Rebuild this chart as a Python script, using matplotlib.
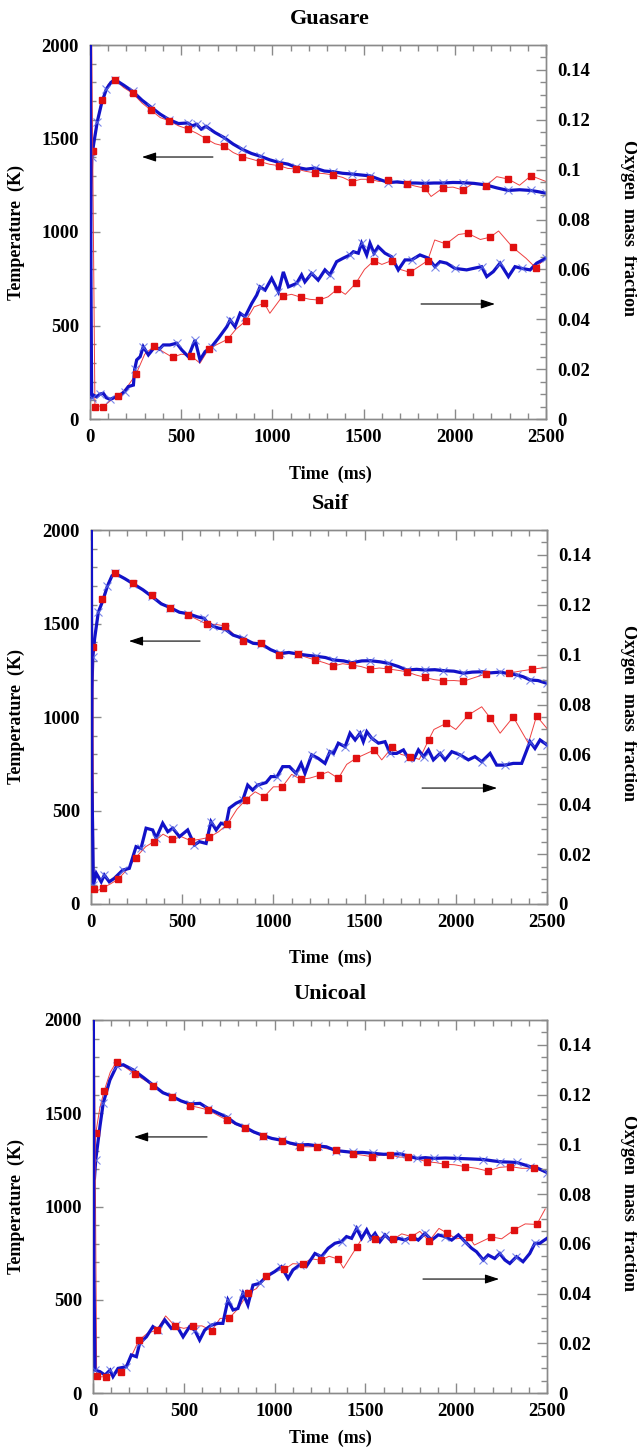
import matplotlib
matplotlib.use("Agg")
import matplotlib.pyplot as plt
from matplotlib.ticker import MultipleLocator, FuncFormatter

plt.rcParams['font.family'] = ['Liberation Serif', 'DejaVu Serif']
plt.rcParams['font.weight'] = 'bold'

# ---------------- Guasare ----------------
# (time ms, temperature K)
GUA_TEMP_BLUE = [(0, 800), (5, 1250), (10, 1400), (20, 1470), (40, 1590), (64, 1690), (90, 1765), (115, 1800),
                 (137, 1815), (185, 1785), (234, 1752), (285, 1705), (334, 1668), (385, 1630), (435, 1600),
                 (485, 1580), (535, 1583), (560, 1568), (585, 1576), (610, 1550), (636, 1565), (685, 1532),
                 (735, 1505), (785, 1470), (835, 1442), (885, 1420), (934, 1405), (985, 1386), (1035, 1372),
                 (1085, 1363), (1131, 1346), (1185, 1336), (1232, 1342), (1285, 1326), (1334, 1322), (1385, 1314),
                 (1435, 1310), (1485, 1305), (1535, 1300), (1585, 1282), (1636, 1264), (1685, 1268), (1736, 1262),
                 (1785, 1262), (1837, 1260), (1885, 1262), (1937, 1262), (1990, 1265), (2043, 1264), (2105, 1260),
                 (2169, 1252), (2230, 1236), (2293, 1222), (2355, 1226), (2418, 1222), (2460, 1215), (2500, 1207)]
# start point, then alternating (square, in-between) points
GUA_TEMP_RED = [(0, 900),
                (15, 1435), (40, 1600), (64, 1706), (100, 1790), (137, 1813), (185, 1772), (234, 1742), (285, 1690),
                (334, 1652), (385, 1612), (435, 1594), (485, 1568), (535, 1551), (585, 1528), (636, 1499), (685, 1472),
                (735, 1460), (785, 1425), (835, 1403), (885, 1390), (934, 1376), (985, 1362), (1035, 1355), (1085, 1340),
                (1131, 1337), (1180, 1325), (1232, 1316), (1285, 1312), (1334, 1305), (1385, 1292), (1435, 1269),
                (1485, 1282), (1535, 1282), (1585, 1270), (1636, 1276), (1685, 1262), (1736, 1257), (1785, 1245),
                (1837, 1234), (1870, 1190), (1937, 1237), (1990, 1240), (2043, 1225), (2105, 1262), (2169, 1246),
                (2230, 1296), (2293, 1283), (2355, 1250), (2418, 1301), (2500, 1270)]
# (time ms, oxygen mass fraction)
GUA_O2_BLUE = [(0, 0.23), (5, 0.06), (9, 0.0083), (20, 0.0095), (37, 0.0089), (55, 0.0100), (73, 0.0103), (90, 0.0085),
               (110, 0.0079), (140, 0.0088), (165, 0.0096), (190, 0.011), (210, 0.013), (238, 0.0136), (245, 0.020),
               (256, 0.0237), (275, 0.025), (292, 0.029), (320, 0.0257), (356, 0.029), (380, 0.028), (402, 0.0297),
               (438, 0.0297), (475, 0.0304), (503, 0.0277), (539, 0.025), (576, 0.0317), (603, 0.0237), (631, 0.027),
               (667, 0.029), (704, 0.0324), (750, 0.037), (768, 0.0397), (795, 0.037), (823, 0.0424), (850, 0.041),
               (887, 0.0464), (914, 0.0497), (932, 0.053), (960, 0.0517), (996, 0.0564), (1033, 0.051), (1060, 0.059),
               (1088, 0.053), (1133, 0.0544), (1160, 0.0578), (1178, 0.055), (1215, 0.0584), (1251, 0.0557),
               (1288, 0.0598), (1315, 0.0578), (1352, 0.0631), (1388, 0.0645), (1425, 0.0658), (1444, 0.0671),
               (1471, 0.0665), (1489, 0.0705), (1517, 0.0658), (1535, 0.0705), (1557, 0.0665), (1580, 0.0691),
               (1617, 0.0665), (1653, 0.0651), (1690, 0.0598), (1727, 0.0638), (1763, 0.0638), (1809, 0.0658),
               (1855, 0.0645), (1891, 0.0611), (1919, 0.0631), (1955, 0.0625), (2001, 0.0604), (2065, 0.0598),
               (2102, 0.0604), (2147, 0.0611), (2175, 0.0571), (2211, 0.0591), (2248, 0.0625), (2294, 0.0571),
               (2330, 0.0611), (2367, 0.0604), (2413, 0.0598), (2449, 0.0625), (2500, 0.0645)]
GUA_O2_RED = [(0, 0.23),
              (27, 0.0049), (50, 0.0052), (73, 0.0050), (115, 0.0075), (155, 0.0092), (205, 0.013), (252, 0.0179),
              (300, 0.026), (353, 0.0293), (400, 0.027), (453, 0.0247), (500, 0.026), (552, 0.0254), (603, 0.0224),
              (652, 0.0282), (700, 0.030), (755, 0.0320), (800, 0.036), (855, 0.0394), (900, 0.045), (956, 0.0464),
              (986, 0.0424), (1056, 0.0493), (1105, 0.050), (1157, 0.0488), (1205, 0.048), (1257, 0.0477),
              (1305, 0.049), (1356, 0.0521), (1400, 0.050), (1457, 0.0544), (1505, 0.060), (1557, 0.0635),
              (1600, 0.0620), (1653, 0.0635), (1700, 0.0600), (1754, 0.0588), (1800, 0.0610), (1851, 0.0635),
              (1890, 0.0718), (1952, 0.0702), (2020, 0.0740), (2071, 0.0745), (2140, 0.0720), (2193, 0.0729),
              (2240, 0.0754), (2317, 0.0689), (2390, 0.0645), (2443, 0.0607), (2500, 0.0645)]

# ---------------- Saif ----------------
SAIF_TEMP_BLUE = [(0, 700), (5, 1150), (10, 1320), (20, 1420), (40, 1560), (64, 1620), (90, 1700), (115, 1755),
                  (132, 1768), (185, 1740), (232, 1712), (285, 1680), (333, 1645), (385, 1605), (434, 1585),
                  (485, 1560), (534, 1552), (585, 1535), (620, 1528), (634, 1510), (670, 1485), (700, 1475),
                  (735, 1470), (779, 1438), (835, 1420), (889, 1394), (934, 1390), (985, 1360), (1034, 1340),
                  (1085, 1345), (1133, 1337), (1185, 1330), (1233, 1325), (1285, 1318), (1329, 1305), (1385, 1300),
                  (1429, 1290), (1485, 1300), (1530, 1301), (1585, 1295), (1630, 1287), (1685, 1270), (1731, 1251),
                  (1785, 1255), (1831, 1251), (1885, 1253), (1932, 1248), (1990, 1245), (2042, 1234), (2090, 1240),
                  (2143, 1242), (2190, 1236), (2243, 1240), (2290, 1232), (2335, 1225), (2370, 1215), (2408, 1198),
                  (2450, 1195), (2500, 1180)]
SAIF_TEMP_RED = [(0, 900),
                 (13, 1376), (35, 1520), (62, 1631), (95, 1720), (132, 1768), (180, 1740), (232, 1715), (285, 1680),
                 (333, 1652), (385, 1612), (434, 1581), (485, 1560), (534, 1545), (585, 1520), (634, 1497), (685, 1495),
                 (735, 1487), (785, 1440), (832, 1408), (885, 1400), (932, 1398), (985, 1360), (1032, 1332), (1085, 1340),
                 (1133, 1335), (1185, 1318), (1228, 1305), (1280, 1290), (1329, 1273), (1380, 1285), (1429, 1278),
                 (1480, 1270), (1530, 1255), (1580, 1262), (1630, 1257), (1680, 1250), (1731, 1242), (1780, 1225),
                 (1831, 1212), (1880, 1200), (1932, 1194), (1990, 1195), (2042, 1191), (2100, 1210), (2164, 1230),
                 (2230, 1238), (2289, 1234), (2350, 1245), (2417, 1255), (2500, 1266)]
SAIF_O2_BLUE = [(0, 0.23), (5, 0.05), (13, 0.0076), (29, 0.0123), (56, 0.0089), (73, 0.0116), (100, 0.0089),
                (128, 0.0103), (174, 0.0136), (210, 0.0143), (247, 0.023), (274, 0.0223), (302, 0.0304), (338, 0.0297),
                (357, 0.0264), (393, 0.0324), (421, 0.029), (448, 0.0304), (485, 0.027), (530, 0.0297), (567, 0.0237),
                (594, 0.025), (631, 0.0243), (658, 0.033), (686, 0.0297), (713, 0.0324), (740, 0.0317), (758, 0.0384),
                (795, 0.0404), (832, 0.0417), (859, 0.0477), (886, 0.0457), (914, 0.0477), (960, 0.0487),
                (987, 0.0511), (1020, 0.0511), (1051, 0.0551), (1088, 0.0551), (1124, 0.0524), (1152, 0.0564),
                (1173, 0.0524), (1210, 0.0598), (1246, 0.0584), (1283, 0.0564), (1310, 0.0611), (1330, 0.0604),
                (1356, 0.0645), (1393, 0.0631), (1420, 0.0685), (1448, 0.0658), (1475, 0.0685), (1493, 0.0651),
                (1512, 0.0691), (1539, 0.0665), (1576, 0.0645), (1612, 0.0651), (1640, 0.0604), (1676, 0.0604),
                (1713, 0.0618), (1740, 0.0584), (1768, 0.0578), (1795, 0.0618), (1823, 0.0591), (1850, 0.0618),
                (1877, 0.0578), (1914, 0.0604), (1941, 0.0578), (1978, 0.0611), (2024, 0.0598), (2069, 0.0578),
                (2105, 0.0591), (2142, 0.0571), (2188, 0.0604), (2224, 0.0557), (2270, 0.0557), (2315, 0.0564),
                (2361, 0.0564), (2407, 0.0651), (2434, 0.0624), (2462, 0.0658), (2500, 0.0638)]
SAIF_O2_RED = [(0, 0.23),
               (16, 0.0059), (40, 0.0055), (66, 0.0065), (105, 0.0080), (148, 0.0099), (200, 0.014), (245, 0.0186),
               (300, 0.023), (345, 0.025), (395, 0.028), (446, 0.0259), (495, 0.027), (547, 0.0254), (600, 0.026),
               (647, 0.0267), (700, 0.029), (748, 0.032), (800, 0.038), (848, 0.0417), (900, 0.045), (949, 0.043),
               (1000, 0.047), (1049, 0.047), (1100, 0.052), (1150, 0.0500), (1200, 0.0505), (1255, 0.0517),
               (1300, 0.053), (1356, 0.0504), (1402, 0.056), (1452, 0.0584), (1500, 0.060), (1553, 0.0618),
               (1594, 0.0578), (1651, 0.0628), (1700, 0.060), (1751, 0.0591), (1800, 0.058), (1851, 0.0658),
               (1880, 0.070), (1949, 0.0725), (2000, 0.070), (2069, 0.0758), (2142, 0.0791), (2190, 0.0745),
               (2243, 0.0685), (2315, 0.0750), (2398, 0.0645), (2443, 0.0754), (2500, 0.0704)]

# ---------------- Unicoal ----------------
UNI_TEMP_BLUE = [(0, 1140), (8, 1150), (15, 1249), (38, 1428), (56, 1553), (93, 1678), (130, 1753), (167, 1760),
                 (222, 1732), (280, 1690), (332, 1650), (385, 1610), (433, 1592), (485, 1566), (534, 1550),
                 (589, 1553), (635, 1525), (690, 1500), (736, 1480), (785, 1445), (837, 1425), (885, 1400),
                 (938, 1380), (985, 1365), (1039, 1355), (1085, 1340), (1136, 1330), (1185, 1332), (1237, 1325),
                 (1285, 1320), (1336, 1300), (1385, 1295), (1434, 1290), (1485, 1290), (1544, 1285), (1600, 1280),
                 (1691, 1282), (1740, 1270), (1783, 1258), (1830, 1262), (1875, 1258), (1940, 1260), (2003, 1258),
                 (2080, 1255), (2150, 1252), (2200, 1245), (2242, 1240), (2290, 1238), (2334, 1236), (2370, 1225),
                 (2407, 1214), (2450, 1205), (2500, 1182)]
UNI_TEMP_RED = [(0, 1000),
                (15, 1392), (38, 1530), (61, 1619), (95, 1720), (130, 1777), (180, 1745), (231, 1709), (280, 1680),
                (332, 1648), (385, 1615), (433, 1589), (485, 1565), (534, 1541), (585, 1530), (635, 1517), (685, 1490),
                (736, 1464), (785, 1440), (837, 1419), (885, 1395), (938, 1378), (985, 1365), (1039, 1353),
                (1085, 1335), (1140, 1321), (1185, 1320), (1235, 1321), (1285, 1310), (1336, 1303), (1385, 1295),
                (1434, 1282), (1485, 1275), (1535, 1267), (1585, 1275), (1636, 1276), (1685, 1265), (1737, 1264),
                (1785, 1255), (1838, 1240), (1890, 1235), (1939, 1226), (1990, 1224), (2046, 1214), (2110, 1205),
                (2174, 1190), (2240, 1210), (2297, 1214), (2360, 1205), (2426, 1205), (2500, 1181)]
UNI_O2_BLUE = [(0, 0.23), (5, 0.05), (11, 0.0092), (38, 0.0086), (66, 0.0072), (94, 0.0092), (110, 0.0066),
               (138, 0.0099), (184, 0.0106), (211, 0.0153), (239, 0.0146), (257, 0.020), (294, 0.0226), (330, 0.0267),
               (358, 0.0253), (395, 0.0294), (431, 0.026), (459, 0.0273), (496, 0.0226), (532, 0.0267), (560, 0.0253),
               (587, 0.0213), (615, 0.0253), (652, 0.0273), (688, 0.028), (715, 0.028), (743, 0.0374), (771, 0.0334),
               (798, 0.0340), (826, 0.0401), (853, 0.0354), (881, 0.0434), (918, 0.0441), (954, 0.0468),
               (1000, 0.0488), (1037, 0.0508), (1074, 0.0461), (1101, 0.0495), (1138, 0.0515), (1174, 0.0508),
               (1222, 0.0561), (1258, 0.0548), (1295, 0.0582), (1332, 0.0602), (1369, 0.0609), (1396, 0.0629),
               (1424, 0.0622), (1452, 0.0662), (1479, 0.0622), (1507, 0.0656), (1530, 0.0622), (1553, 0.0642),
               (1580, 0.0609), (1608, 0.0636), (1645, 0.0609), (1681, 0.0622), (1718, 0.0615), (1755, 0.0629),
               (1791, 0.0615), (1828, 0.0642), (1865, 0.0615), (1901, 0.0636), (1938, 0.0629), (1975, 0.0615),
               (2012, 0.0636), (2048, 0.0609), (2085, 0.0582), (2112, 0.0568), (2149, 0.0535), (2176, 0.0555),
               (2212, 0.0541), (2240, 0.0561), (2268, 0.0535), (2295, 0.0521), (2332, 0.0548), (2368, 0.0528),
               (2405, 0.0561), (2433, 0.0602), (2460, 0.0602), (2500, 0.0622)]
UNI_O2_RED = [(0, 0.23),
              (20, 0.0070), (45, 0.0065), (70, 0.0066), (110, 0.0075), (152, 0.0086), (200, 0.013), (253, 0.0213),
              (300, 0.024), (351, 0.0253), (400, 0.031), (452, 0.0269), (500, 0.026), (553, 0.0269), (600, 0.027),
              (654, 0.0251), (700, 0.030), (749, 0.0300), (800, 0.034), (854, 0.0403), (900, 0.042), (953, 0.0471),
              (1000, 0.049), (1054, 0.0497), (1100, 0.052), (1155, 0.0518), (1200, 0.054), (1254, 0.0534),
              (1300, 0.055), (1351, 0.0538), (1379, 0.0502), (1453, 0.0588), (1505, 0.065), (1554, 0.0618),
              (1600, 0.0630), (1653, 0.0618), (1700, 0.0640), (1754, 0.0629), (1800, 0.0650), (1851, 0.0611),
              (1905, 0.0662), (1952, 0.0642), (2000, 0.062), (2071, 0.0628), (2100, 0.0595), (2194, 0.0628),
              (2250, 0.062), (2319, 0.0656), (2380, 0.068), (2444, 0.0678), (2490, 0.074)]

PANEL_NAMES = ["Guasare", "Saif", "Unicoal"]
# arrows: (tail time, head time, temperature level)
ARROWS_TEMP = [(674, 285, 1401), (598, 208, 1406), (628, 226, 1373)]
ARROWS_O2 = [(1815, 2220, 615), (1815, 2226, 620), (1817, 2236, 611)]

FIG_W, FIG_H = 637, 1450
# axes boxes in pixels: left, top, right, bottom
BOXES = [(90, 45, 546, 419), (91, 530, 547, 904), (93, 1020, 547, 1393)]
XLABEL_OFFSETS = [55, 54, 45]

BLUE = '#1212c8'
BLUE_MARK = '#5a6ae4'
RED_LINE = '#ef4040'
RED_MARK = '#e01010'
GREY = '#8a8a8a'


def split(points):
    return [p[0] for p in points], [p[1] for p in points]


def draw_blue(ax, pts, every):
    t, v = split(pts)
    ax.plot(t, v, color=BLUE, lw=2.3, zorder=3, solid_joinstyle='miter')
    ax.plot(t, v, ls='none', marker='x', ms=6, mew=0.8, color=BLUE_MARK, alpha=0.8,
            markevery=slice(2, None, every), zorder=3)


def draw_red(ax, pts):
    t, v = split(pts)
    ax.plot(t, v, color=RED_LINE, lw=0.7, zorder=2)
    ax.plot(t, v, ls='none', marker='s', ms=5, color=RED_MARK,
            markevery=slice(1, None, 2), zorder=4)


series = [
    (GUA_TEMP_BLUE, GUA_TEMP_RED, GUA_O2_BLUE, GUA_O2_RED),
    (SAIF_TEMP_BLUE, SAIF_TEMP_RED, SAIF_O2_BLUE, SAIF_O2_RED),
    (UNI_TEMP_BLUE, UNI_TEMP_RED, UNI_O2_BLUE, UNI_O2_RED),
]

fig = plt.figure(figsize=(FIG_W / 100, FIG_H / 100), dpi=100)

tick_kw = dict(labelsize=13.5, colors=GREY, labelcolor='black', direction='in')

for i, (name, (tb, tr, ob, orr)) in enumerate(zip(PANEL_NAMES, series)):
    l, t, r, b = BOXES[i]
    w_ax, h_ax = r - l, b - t
    ax = fig.add_axes([l / FIG_W, 1 - b / FIG_H, w_ax / FIG_W, h_ax / FIG_H])
    ax2 = ax.twinx()

    draw_red(ax, tr)
    draw_blue(ax, tb, 2)
    draw_red(ax2, orr)
    draw_blue(ax2, ob, 3)

    ax.set_xlim(0, 2500)
    ax.set_ylim(0, 2000)
    ax2.set_ylim(0, 0.15)

    ax.xaxis.set_major_locator(MultipleLocator(500))
    ax.xaxis.set_minor_locator(MultipleLocator(100))
    ax.yaxis.set_major_locator(MultipleLocator(500))
    ax.yaxis.set_minor_locator(MultipleLocator(100))
    ax2.yaxis.set_major_locator(MultipleLocator(0.02))
    ax2.yaxis.set_minor_locator(MultipleLocator(0.005))
    ax2.yaxis.set_major_formatter(FuncFormatter(lambda v, p: '%g' % round(v, 3)))

    ax.tick_params(axis='x', which='both', top=True, bottom=True, pad=7, **tick_kw)
    ax.tick_params(axis='y', which='both', left=True, right=False, pad=8, **tick_kw)
    ax.tick_params(which='major', length=7, width=1)
    ax.tick_params(which='minor', length=4, width=1)
    ax2.tick_params(axis='y', which='both', right=True, left=False, pad=8, **tick_kw)
    ax2.tick_params(which='major', length=7, width=1)
    ax2.tick_params(which='minor', length=4, width=1)
    for lab in ax.get_xticklabels() + ax.get_yticklabels() + ax2.get_yticklabels():
        lab.set_fontweight('bold')

    for a in (ax, ax2):
        for sp in a.spines.values():
            sp.set_color(GREY)
            sp.set_linewidth(1.0)

    cx = (330 - l) / w_ax
    ax.text(cx, 1 + 26 / h_ax, name, transform=ax.transAxes, ha='center', va='center',
            fontsize=16, fontweight='bold')
    ax.text(cx, -XLABEL_OFFSETS[i] / h_ax, 'Time  (ms)', transform=ax.transAxes, ha='center',
            va='center', fontsize=13, fontweight='bold')
    ax.text((16 - l) / w_ax, 0.5, 'Temperature  (K)', transform=ax.transAxes, ha='center',
            va='center', rotation=90, fontsize=13, fontweight='bold')
    ax.text((628 - l) / w_ax, 0.51, 'Oxygen  mass  fraction', transform=ax.transAxes, ha='center',
            va='center', rotation=270, fontsize=13, fontweight='bold')

    for tail, head, lvl in (ARROWS_TEMP[i], ARROWS_O2[i]):
        ax2.annotate('', xy=(head, lvl * 0.15 / 2000), xytext=(tail, lvl * 0.15 / 2000),
                     arrowprops=dict(arrowstyle='-|>,head_length=0.85,head_width=0.28',
                                     color='black', lw=0.8, shrinkA=0, shrinkB=0), zorder=6)

fig.savefig('out.png', dpi=100)
